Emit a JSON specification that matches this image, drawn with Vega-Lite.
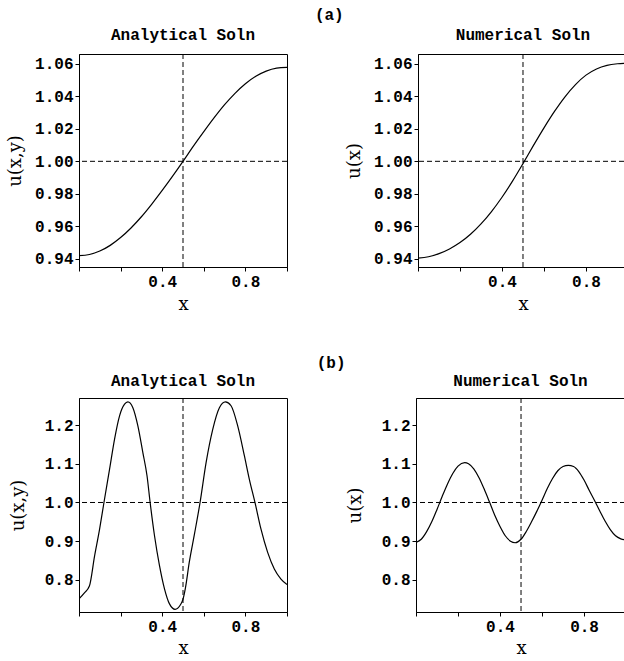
{
  "$schema": "https://vega.github.io/schema/vega-lite/v6.json",
  "padding": {"left": 6, "top": 7, "right": 0, "bottom": 0},
  "background": "white",
  "config": {
    "font": "Liberation Mono",
    "view": {"stroke": "black", "strokeWidth": 1},
    "axis": {
      "domainColor": "black", "tickColor": "black", "labelColor": "black", "titleColor": "black",
      "labelFont": "Liberation Mono", "labelFontSize": 16, "labelFontWeight": "bold", "titleFont": "DejaVu Serif", "titleFontSize": 18,
      "titleFontWeight": "normal", "grid": false, "tickSize": 4, "labelPadding": 2, "labelFlush": false, "labelOverlap": false, "tickCount": 12
    },
    "title": {"font": "Liberation Mono", "fontSize": 16, "fontWeight": "bold", "color": "black"}
  },
  "datasets": {
    "refs": [{"yref": 1.0, "xref": 0.5}],
    "a_ana": [
      {"x": 0.00, "u": 0.9420}, {"x": 0.05, "u": 0.9427}, {"x": 0.10, "u": 0.9448}, {"x": 0.15, "u": 0.9483},
      {"x": 0.20, "u": 0.9531}, {"x": 0.25, "u": 0.9590}, {"x": 0.30, "u": 0.9659}, {"x": 0.35, "u": 0.9737},
      {"x": 0.40, "u": 0.9821}, {"x": 0.45, "u": 0.9909}, {"x": 0.50, "u": 1.0000}, {"x": 0.55, "u": 1.0093},
      {"x": 0.60, "u": 1.0182}, {"x": 0.65, "u": 1.0268}, {"x": 0.70, "u": 1.0348}, {"x": 0.75, "u": 1.0418},
      {"x": 0.80, "u": 1.0477}, {"x": 0.85, "u": 1.0523}, {"x": 0.90, "u": 1.0555}, {"x": 0.95, "u": 1.0573},
      {"x": 1.00, "u": 1.0578}
    ],
    "a_num": [
      {"x": 0.00, "u": 0.9405}, {"x": 0.05, "u": 0.9413}, {"x": 0.10, "u": 0.9432}, {"x": 0.15, "u": 0.9461},
      {"x": 0.20, "u": 0.9500}, {"x": 0.25, "u": 0.9551}, {"x": 0.30, "u": 0.9615}, {"x": 0.35, "u": 0.9691},
      {"x": 0.40, "u": 0.9779}, {"x": 0.45, "u": 0.9878}, {"x": 0.50, "u": 0.9986}, {"x": 0.55, "u": 1.0098},
      {"x": 0.60, "u": 1.0206}, {"x": 0.65, "u": 1.0307}, {"x": 0.70, "u": 1.0397}, {"x": 0.75, "u": 1.0472},
      {"x": 0.80, "u": 1.0530}, {"x": 0.85, "u": 1.0568}, {"x": 0.90, "u": 1.0590}, {"x": 0.95, "u": 1.0600},
      {"x": 1.00, "u": 1.0604}
    ],
    "b_ana": [
      {"x": 0.000, "u": 0.751}, {"x": 0.025, "u": 0.766}, {"x": 0.050, "u": 0.784}, {"x": 0.075, "u": 0.862},
      {"x": 0.099, "u": 0.931}, {"x": 0.120, "u": 1.000}, {"x": 0.147, "u": 1.086}, {"x": 0.171, "u": 1.164},
      {"x": 0.195, "u": 1.224}, {"x": 0.219, "u": 1.254}, {"x": 0.235, "u": 1.260}, {"x": 0.259, "u": 1.245},
      {"x": 0.283, "u": 1.198}, {"x": 0.307, "u": 1.129}, {"x": 0.327, "u": 1.069}, {"x": 0.342, "u": 1.000},
      {"x": 0.363, "u": 0.914}, {"x": 0.387, "u": 0.837}, {"x": 0.411, "u": 0.777}, {"x": 0.435, "u": 0.738},
      {"x": 0.462, "u": 0.724}, {"x": 0.487, "u": 0.735}, {"x": 0.500, "u": 0.750}, {"x": 0.512, "u": 0.780},
      {"x": 0.530, "u": 0.845}, {"x": 0.555, "u": 0.918}, {"x": 0.582, "u": 1.000}, {"x": 0.611, "u": 1.103},
      {"x": 0.643, "u": 1.189}, {"x": 0.675, "u": 1.245}, {"x": 0.704, "u": 1.260}, {"x": 0.731, "u": 1.250},
      {"x": 0.763, "u": 1.198}, {"x": 0.795, "u": 1.121}, {"x": 0.819, "u": 1.060}, {"x": 0.846, "u": 1.000},
      {"x": 0.875, "u": 0.931}, {"x": 0.907, "u": 0.871}, {"x": 0.939, "u": 0.828}, {"x": 0.971, "u": 0.802},
      {"x": 1.000, "u": 0.788}
    ],
    "b_num": [
      {"x": 0.000, "u": 0.897}, {"x": 0.025, "u": 0.905}, {"x": 0.050, "u": 0.924}, {"x": 0.075, "u": 0.950},
      {"x": 0.100, "u": 0.982}, {"x": 0.125, "u": 1.016}, {"x": 0.150, "u": 1.048}, {"x": 0.175, "u": 1.075},
      {"x": 0.200, "u": 1.094}, {"x": 0.232, "u": 1.103}, {"x": 0.250, "u": 1.100}, {"x": 0.275, "u": 1.087},
      {"x": 0.300, "u": 1.064}, {"x": 0.325, "u": 1.034}, {"x": 0.350, "u": 1.001}, {"x": 0.375, "u": 0.967},
      {"x": 0.400, "u": 0.938}, {"x": 0.425, "u": 0.914}, {"x": 0.450, "u": 0.900}, {"x": 0.472, "u": 0.896},
      {"x": 0.500, "u": 0.905}, {"x": 0.525, "u": 0.925}, {"x": 0.550, "u": 0.950}, {"x": 0.575, "u": 0.977},
      {"x": 0.600, "u": 1.006}, {"x": 0.625, "u": 1.036}, {"x": 0.650, "u": 1.062}, {"x": 0.675, "u": 1.082},
      {"x": 0.700, "u": 1.093}, {"x": 0.725, "u": 1.096}, {"x": 0.750, "u": 1.093}, {"x": 0.775, "u": 1.080},
      {"x": 0.800, "u": 1.058}, {"x": 0.825, "u": 1.031}, {"x": 0.850, "u": 1.005}, {"x": 0.875, "u": 0.978},
      {"x": 0.900, "u": 0.952}, {"x": 0.925, "u": 0.930}, {"x": 0.950, "u": 0.914}, {"x": 0.975, "u": 0.906},
      {"x": 1.000, "u": 0.903}
    ]
  },
  "spacing": 41,
  "vconcat": [
    {
      "title": {"text": "(a)", "anchor": "middle", "offset": 3, "dx": 14},
      "spacing": 57,
      "hconcat": [
        {
          "width": 208, "height": 213,
          "title": {"text": "Analytical Soln", "offset": 11},
          "layer": [
            {
              "data": {"name": "a_ana"},
              "mark": {"type": "line", "color": "black", "strokeWidth": 1.2, "interpolate": "monotone", "clip": true},
              "encoding": {
                "x": {"field": "x", "type": "quantitative", "scale": {"domain": [0, 1], "nice": false, "zero": false},
                  "axis": {"title": "x", "values": [0, 0.2, 0.4, 0.6, 0.8, 1], "tickCount": 12, "format": ".1f", "labelOverlap": false, "labelExpr": "datum.value == 0.4 || datum.value == 0.8 ? datum.label : ''", "titlePadding": 6}},
                "y": {"field": "u", "type": "quantitative", "scale": {"domain": [0.935, 1.066], "nice": false, "zero": false},
                  "axis": {"title": "u(x,y)", "values": [0.94, 0.96, 0.98, 1.0, 1.02, 1.04, 1.06], "tickCount": 12, "format": ".2f", "labelOverlap": false, "titlePadding": 10}}
              }
            },
            {"data": {"name": "refs"}, "mark": {"type": "rule", "color": "black", "strokeDash": [5, 3], "strokeWidth": 1}, "encoding": {"y": {"field": "yref", "type": "quantitative"}}},
            {"data": {"name": "refs"}, "mark": {"type": "rule", "color": "black", "strokeDash": [5, 3], "strokeWidth": 1}, "encoding": {"x": {"field": "xref", "type": "quantitative"}}}
          ]
        },
        {
          "width": 206, "height": 213,
          "title": {"text": "Numerical Soln", "offset": 11, "dx": 2},
          "layer": [
            {
              "data": {"name": "a_num"},
              "mark": {"type": "line", "color": "black", "strokeWidth": 1.2, "interpolate": "monotone", "clip": true},
              "encoding": {
                "x": {"field": "x", "type": "quantitative", "scale": {"domain": [0, 0.981], "nice": false, "zero": false},
                  "axis": {"title": "x", "values": [0, 0.2, 0.4, 0.6, 0.8], "tickCount": 12, "format": ".1f", "labelOverlap": false, "labelExpr": "datum.value == 0.4 || datum.value == 0.8 ? datum.label : ''", "titlePadding": 6, "titleX": 105}},
                "y": {"field": "u", "type": "quantitative", "scale": {"domain": [0.935, 1.066], "nice": false, "zero": false},
                  "axis": {"title": "u(x)", "values": [0.94, 0.96, 0.98, 1.0, 1.02, 1.04, 1.06], "tickCount": 12, "format": ".2f", "labelOverlap": false, "titlePadding": 10}}
              }
            },
            {"data": {"name": "refs"}, "mark": {"type": "rule", "color": "black", "strokeDash": [5, 3], "strokeWidth": 1, "clip": true}, "encoding": {"y": {"field": "yref", "type": "quantitative"}}},
            {"data": {"name": "refs"}, "mark": {"type": "rule", "color": "black", "strokeDash": [5, 3], "strokeWidth": 1, "clip": true}, "encoding": {"x": {"field": "xref", "type": "quantitative"}}}
          ]
        }
      ]
    },
    {
      "title": {"text": "(b)", "anchor": "middle", "offset": 1, "dx": 14},
      "spacing": 57,
      "hconcat": [
        {
          "width": 208, "height": 214,
          "title": {"text": "Analytical Soln", "offset": 9},
          "layer": [
            {
              "data": {"name": "b_ana"},
              "mark": {"type": "line", "color": "black", "strokeWidth": 1.2, "interpolate": "monotone", "clip": true},
              "encoding": {
                "x": {"field": "x", "type": "quantitative", "scale": {"domain": [0, 1], "nice": false, "zero": false},
                  "axis": {"title": "x", "values": [0, 0.2, 0.4, 0.6, 0.8, 1], "tickCount": 12, "format": ".1f", "labelOverlap": false, "labelExpr": "datum.value == 0.4 || datum.value == 0.8 ? datum.label : ''", "titlePadding": 5}},
                "y": {"field": "u", "type": "quantitative", "scale": {"domain": [0.717, 1.27], "nice": false, "zero": false},
                  "axis": {"title": "u(x,y)", "values": [0.8, 0.9, 1.0, 1.1, 1.2], "tickCount": 12, "format": ".1f", "labelOverlap": false, "titlePadding": 17}}
              }
            },
            {"data": {"name": "refs"}, "mark": {"type": "rule", "color": "black", "strokeDash": [5, 3], "strokeWidth": 1}, "encoding": {"y": {"field": "yref", "type": "quantitative"}}},
            {"data": {"name": "refs"}, "mark": {"type": "rule", "color": "black", "strokeDash": [5, 3], "strokeWidth": 1}, "encoding": {"x": {"field": "xref", "type": "quantitative"}}}
          ]
        },
        {
          "width": 209, "height": 214,
          "title": {"text": "Numerical Soln", "offset": 9},
          "layer": [
            {
              "data": {"name": "b_num"},
              "mark": {"type": "line", "color": "black", "strokeWidth": 1.2, "interpolate": "monotone", "clip": true},
              "encoding": {
                "x": {"field": "x", "type": "quantitative", "scale": {"domain": [0, 0.995], "nice": false, "zero": false},
                  "axis": {"title": "x", "values": [0, 0.2, 0.4, 0.6, 0.8], "tickCount": 12, "format": ".1f", "labelOverlap": false, "labelExpr": "datum.value == 0.4 || datum.value == 0.8 ? datum.label : ''", "titlePadding": 5, "titleX": 105}},
                "y": {"field": "u", "type": "quantitative", "scale": {"domain": [0.717, 1.27], "nice": false, "zero": false},
                  "axis": {"title": "u(x)", "values": [0.8, 0.9, 1.0, 1.1, 1.2], "tickCount": 12, "format": ".1f", "labelOverlap": false, "titlePadding": 17}}
              }
            },
            {"data": {"name": "refs"}, "mark": {"type": "rule", "color": "black", "strokeDash": [5, 3], "strokeWidth": 1, "clip": true}, "encoding": {"y": {"field": "yref", "type": "quantitative"}}},
            {"data": {"name": "refs"}, "mark": {"type": "rule", "color": "black", "strokeDash": [5, 3], "strokeWidth": 1, "clip": true}, "encoding": {"x": {"field": "xref", "type": "quantitative"}}}
          ]
        }
      ]
    }
  ]
}
